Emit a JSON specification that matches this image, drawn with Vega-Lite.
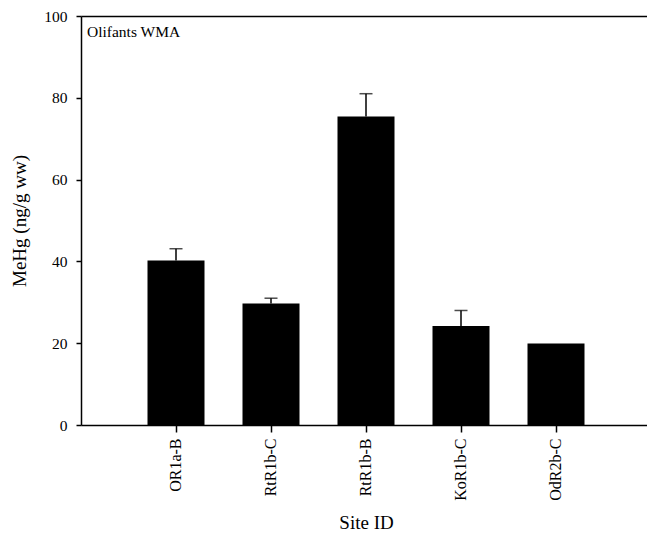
{
  "$schema": "https://vega.github.io/schema/vega-lite/v6.json",
  "width": 566,
  "height": 409,
  "autosize": {"type": "none"},
  "padding": {"left": 81, "top": 16, "right": 0, "bottom": 114},
  "background": "white",
  "title": {"text": "Olifants WMA", "anchor": "start", "frame": "group", "dx": 6, "offset": -31, "font": "Liberation Serif", "fontSize": 15.5, "fontWeight": "normal", "color": "black"},
  "data": {"values": [
    {"site": "OR1a-B", "mehg": 40.2, "upper": 43.1},
    {"site": "RtR1b-C", "mehg": 29.7, "upper": 31.0},
    {"site": "RtR1b-B", "mehg": 75.4, "upper": 81.0},
    {"site": "KoR1b-C", "mehg": 24.2, "upper": 28.0},
    {"site": "OdR2b-C", "mehg": 19.9, "upper": null}
  ]},
  "config": {
    "view": {"stroke": null},
    "axis": {
      "grid": false,
      "domainColor": "black", "domainWidth": 1.5,
      "tickColor": "black", "tickWidth": 1.5,
      "labelColor": "black", "titleColor": "black",
      "labelFont": "Liberation Serif", "titleFont": "Liberation Serif",
      "labelFontSize": 15.5, "titleFontSize": 19, "titleFontWeight": "normal"
    }
  },
  "layer": [
    {
      "mark": {"type": "bar", "color": "black"},
      "encoding": {
        "x": {"field": "site", "type": "nominal", "sort": null,
          "scale": {"range": [0, 570], "paddingInner": 0.4, "paddingOuter": 0.7},
          "axis": {"orient": "bottom", "title": "Site ID", "labelAngle": 270, "labelFontSize": 16, "tickSize": 7, "labelPadding": 6, "titlePadding": 13}},
        "y": {"field": "mehg", "type": "quantitative", "scale": {"domain": [0, 100], "nice": false},
          "axis": {"title": "MeHg (ng/g ww)", "values": [0, 20, 40, 60, 80, 100], "tickSize": 5, "labelPadding": 9, "titlePadding": 14}}
      }
    },
    {
      "transform": [{"filter": "datum.upper != null"}],
      "mark": {"type": "rule", "color": "black", "strokeWidth": 1.5},
      "encoding": {
        "x": {"field": "site", "type": "nominal", "sort": null,
          "axis": {"orient": "top", "labels": false, "ticks": false, "title": null, "domain": true}},
        "y": {"field": "mehg", "type": "quantitative", "title": "MeHg (ng/g ww)"},
        "y2": {"field": "upper"}
      }
    },
    {
      "transform": [{"filter": "datum.upper != null"}],
      "mark": {"type": "tick", "color": "black", "thickness": 1.5, "size": 13},
      "encoding": {
        "x": {"field": "site", "type": "nominal", "sort": null, "axis": null},
        "y": {"field": "upper", "type": "quantitative", "title": "MeHg (ng/g ww)"}
      }
    }
  ],
  "resolve": {"axis": {"x": "independent"}}
}
